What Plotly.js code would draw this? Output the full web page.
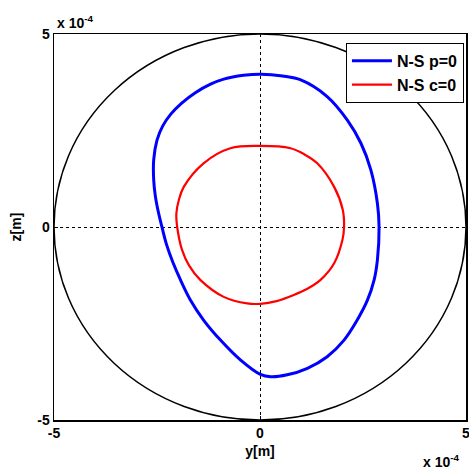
<!DOCTYPE html>
<html>
<head>
<meta charset="utf-8">
<script src="https://cdn.plot.ly/plotly-3.0.1.min.js"></script>
<style>html,body{margin:0;padding:0;background:#fff;}#plot{width:469px;height:475px;}</style>
</head>
<body>
<div id="plot"></div>
<script>
// values in units of 1e-4 m
const psY = [0.03,0.55,0.99,1.63,2.12,2.45,2.69,2.85,2.89,2.85,2.77,2.61,2.36,2.04,1.63,1.15,0.66,0.26,0.01,-0.47,-0.96,-1.37,-1.69,-1.93,-2.12,-2.27,-2.38,-2.47,-2.54,-2.58,-2.58,-2.50,-2.36,-2.16,-1.90,-1.57,-1.20,-0.88,-0.40,0.03];
const psZ = [3.96,3.91,3.81,3.38,2.77,2.17,1.48,0.61,0.00,-0.85,-1.37,-1.89,-2.41,-2.93,-3.36,-3.66,-3.83,-3.88,-3.82,-3.45,-2.93,-2.41,-1.89,-1.37,-0.90,-0.45,0.00,0.40,0.80,1.22,1.74,2.25,2.62,2.93,3.21,3.48,3.70,3.83,3.93,3.96];
const csY = [0.01,0.74,1.08,1.39,1.80,2.01,2.04,2.00,1.80,1.47,1.15,0.82,0.40,0.01,-0.31,-0.88,-1.45,-1.72,-1.89,-2.01,-2.03,-1.97,-1.85,-1.37,-0.72,0.01];
const csZ = [2.10,2.04,1.88,1.65,1.04,0.44,0.00,-0.34,-0.94,-1.37,-1.60,-1.76,-1.92,-1.99,-1.98,-1.81,-1.37,-1.00,-0.60,0.00,0.35,0.70,1.04,1.65,2.04,2.10];
const seriesNames = ['N-S p=0','N-S c=0'];
const tickVals = [-5,0,5];
const tickText = ['-5','0','5'];
const boundaryRadius = 5;

const traces = [
  {x: psY, y: psZ, mode:'lines', name: '<b>'+seriesNames[0]+'</b>', line:{color:'#0000ff', width:3, shape:'spline', smoothing:1}},
  {x: csY, y: csZ, mode:'lines', name: '<b>'+seriesNames[1]+'</b>', line:{color:'#ff0000', width:2.2, shape:'spline', smoothing:1}}
];

const fnt = {family:'Arial', size:14, color:'#000', weight:700};
const axisCommon = {
  range:[-5,5], tickvals: tickVals, ticktext: tickText.map(t=>'<b>'+t+'</b>'),
  showline:true, mirror:true, linecolor:'#000', linewidth:1.5,
  ticks:'inside', ticklen:4, tickcolor:'#000',
  showgrid:true, gridcolor:'#000', gridwidth:1, griddash:'3px,3px',
  zeroline:false, tickfont: fnt, fixedrange:true, ticklabeloverflow:'allow'
};

const layout = {
  width:469, height:475,
  margin:{l:54, r:3, t:34, b:55},
  paper_bgcolor:'#fff', plot_bgcolor:'#fff',
  font: fnt,
  showlegend:true,
  legend:{x:0.995, xanchor:'right', y:0.977, yanchor:'top', bgcolor:'#fff', bordercolor:'#000', borderwidth:1, font: Object.assign({}, fnt, {size:16}), tracegroupgap:0, itemwidth:40},
  xaxis: Object.assign({}, axisCommon, {title:{text:'<b>y[m]</b>', font: fnt, standoff:6}}),
  yaxis: Object.assign({}, axisCommon, {title:{text:'<b>z[m]</b>', font: fnt, standoff:12}}),
  shapes:[{type:'circle', xref:'x', yref:'y', x0:-boundaryRadius, x1:boundaryRadius, y0:-boundaryRadius, y1:boundaryRadius, line:{color:'#000', width:1.5}, layer:'below'}],
  annotations:[
    {xref:'paper', yref:'paper', x:0, y:1, xanchor:'left', yanchor:'bottom', xshift:1, yshift:1, showarrow:false, text:'<b>x 10<sup>-4</sup></b>', font: fnt},
    {xref:'paper', yref:'paper', x:1, y:0, xanchor:'right', yanchor:'top', xshift:-4, yshift:-30, showarrow:false, text:'<b>x 10<sup>-4</sup></b>', font: fnt}
  ]
};

Plotly.newPlot('plot', traces, layout, {displayModeBar:false, staticPlot:true});
</script>
</body>
</html>
